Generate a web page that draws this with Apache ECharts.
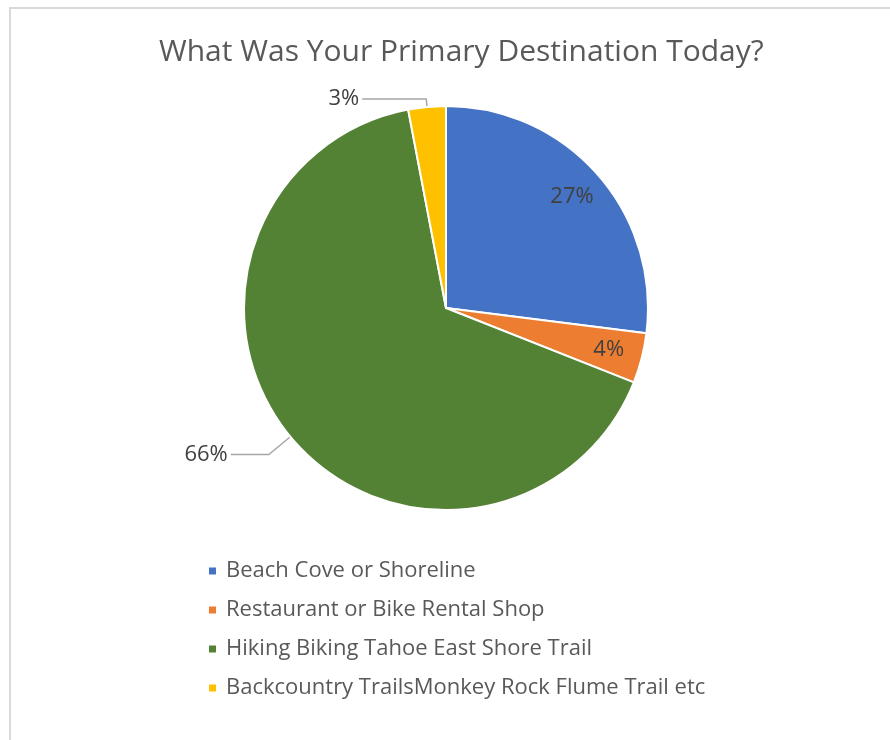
<!DOCTYPE html>
<html><head><meta charset="utf-8">
<script src="https://cdn.jsdelivr.net/npm/echarts@6/dist/echarts.min.js"></script>
<style>html,body{margin:0;padding:0;background:#fff}#c{width:890px;height:740px}</style>
</head><body><div id="c"></div>
<script>
const categories = ['Beach Cove or Shoreline','Restaurant or Bike Rental Shop','Hiking Biking Tahoe East Shore Trail','Backcountry TrailsMonkey Rock Flume Trail etc'];
const values = [27, 4, 66, 3];
const colors = ['#4472C4','#ED7D31','#548235','#FFC000'];
const insideLabel = [true, true, false, false];

const chart = echarts.init(document.getElementById('c'));
const FONT = 'Open Sans';
const mainData = categories.map((n,i)=>({
  name:n, value:values[i],
  itemStyle:{color:colors[i]},
  label: insideLabel[i] ? {show:false} : {show:true},
  labelLine: i===2 ? {show:true, length:28, length2:38} : {show:true, length:8, length2:64}
}));
const overlayData = categories.map((n,i)=>({
  name:n, value:values[i],
  label:{show:insideLabel[i]}
}));
chart.setOption({
  animation:false,
  title:{text:'What Was Your Primary Destination Today?', left:154, top:32,
    textStyle:{fontFamily:FONT, fontSize:30, fontWeight:'normal', color:'#595959'}},
  graphic:[{type:'rect', shape:{x:10, y:8, width:900, height:800},
    style:{fill:'none', stroke:'#d9d9d9', lineWidth:2}, silent:true}],
  legend:{orient:'vertical', left:202, top:555, itemWidth:9, itemHeight:9, itemGap:17, icon:'rect',
    data:categories,
    textStyle:{fontFamily:FONT, fontSize:22, color:'#595959', padding:[0,0,0,4]}},
  series:[{
    type:'pie', center:[446,308], radius:[0,202], startAngle:90, clockwise:true,
    itemStyle:{borderColor:'#fff', borderWidth:2},
    label:{position:'outside', formatter:'{d}%', fontFamily:FONT, fontSize:22, color:'#404040', distanceToLabelLine:3},
    labelLine:{lineStyle:{color:'#a6a6a6', width:1.5}},
    data:mainData
  },{
    type:'pie', center:[446,308], radius:[128,202], startAngle:90, clockwise:true, silent:true,
    itemStyle:{color:'rgba(0,0,0,0)'},
    label:{position:'inside', formatter:'{d}%', fontFamily:FONT, fontSize:22, color:'#404040'},
    labelLine:{show:false},
    data:overlayData
  }]
});
</script></body></html>
